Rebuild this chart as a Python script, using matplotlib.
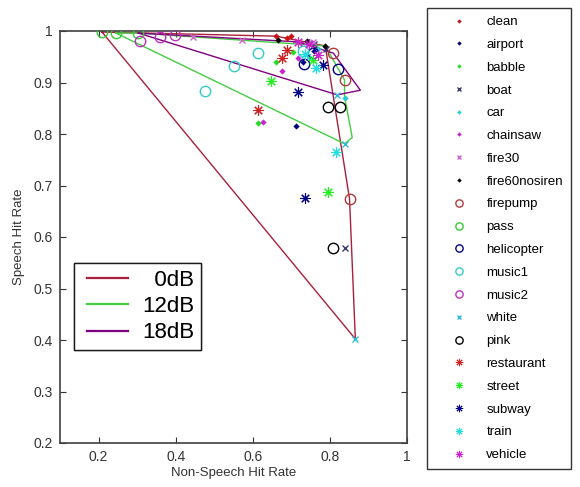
import matplotlib
matplotlib.use("Agg")
import matplotlib.pyplot as plt
from matplotlib.lines import Line2D
from matplotlib.legend_handler import HandlerLine2D

plt.rcParams["font.family"] = ["Liberation Sans", "DejaVu Sans"]

# noise types, in legend order
noise_types = ["clean", "airport", "babble", "boat", "car", "chainsaw", "fire30",
               "fire60nosiren", "firepump", "pass", "helicopter", "music1", "music2",
               "white", "pink", "restaurant", "street", "subway", "train", "vehicle"]
markers = [".", ".", ".", "x", ".", ".", "x", ".", "o", "o", "o", "o", "o",
           "x", "o", "*", "*", "*", "*", "*"]
colors = ["#cc1111", "#000080", "#22dd22", "#3a3a70", "#22cccc", "#cc22cc", "#cc66cc",
          "#000000", "#b03a3a", "#33cc33", "#000080", "#33cccc", "#bb33bb",
          "#33bbdd", "#000000", "#cc2222", "#22ee22", "#000088", "#22dddd", "#cc22cc"]

# operating points per noise type (0dB, 12dB, 18dB)
x_0db = [0.661, 0.713, 0.614, 0.838, 0.838, 0.627, 0.445, 0.666, 0.851, 0.209,
         0.734, 0.477, 0.308, 0.866, 0.809, 0.614, 0.794, 0.736, 0.817, 0.716]
y_0db = [0.990, 0.816, 0.821, 0.579, 0.870, 0.823, 0.988, 0.983, 0.674, 0.998,
         0.936, 0.883, 0.981, 0.402, 0.579, 0.847, 0.687, 0.676, 0.765, 0.979]
x_12db = [0.690, 0.731, 0.661, 0.760, 0.745, 0.677, 0.573, 0.740, 0.838, 0.245,
          0.822, 0.552, 0.360, 0.838, 0.794, 0.677, 0.648, 0.716, 0.765, 0.770]
y_12db = [0.987, 0.940, 0.940, 0.975, 0.950, 0.922, 0.983, 0.981, 0.905, 0.996,
          0.926, 0.932, 0.988, 0.781, 0.852, 0.948, 0.903, 0.882, 0.928, 0.953]
x_18db = [0.700, 0.760, 0.705, 0.790, 0.770, 0.716, 0.757, 0.788, 0.809, 0.303,
          0.755, 0.614, 0.399, 0.819, 0.827, 0.690, 0.755, 0.783, 0.735, 0.745]
y_18db = [0.990, 0.962, 0.960, 0.965, 0.965, 0.948, 0.979, 0.971, 0.957, 0.996,
          0.958, 0.957, 0.992, 0.876, 0.852, 0.963, 0.944, 0.934, 0.955, 0.975]

# one more music1 point seen in the cluster
extra_type = "music1"
extra_x = [0.729]
extra_y = [0.961]

# hull outlines per SNR
hull_0db_x = [0.209, 0.866, 0.851, 0.788, 0.661, 0.209]
hull_0db_y = [0.998, 0.402, 0.674, 0.971, 0.990, 0.998]
hull_12db_x = [0.245, 0.838, 0.858, 0.838, 0.838, 0.788, 0.303, 0.245]
hull_12db_y = [0.996, 0.781, 0.793, 0.873, 0.905, 0.971, 0.996, 0.996]
hull_18db_x = [0.303, 0.819, 0.879, 0.809, 0.716, 0.399, 0.303]
hull_18db_y = [0.996, 0.876, 0.885, 0.957, 0.979, 0.992, 0.996]

snr_labels = ["0dB", "12dB", "18dB"]
snr_colors = ["#a8203c", "#44cc44", "#800080"]

x_ticks = [0.2, 0.4, 0.6, 0.8, 1.0]
x_ticklabels = ["0.2", "0.4", "0.6", "0.8", "1"]
y_ticks = [0.2, 0.3, 0.4, 0.5, 0.6, 0.7, 0.8, 0.9, 1.0]
y_ticklabels = ["0.2", "0.3", "0.4", "0.5", "0.6", "0.7", "0.8", "0.9", "1"]


def marker_style(marker, color, small=False):
    k = 0.7 if small else 1.0
    if marker == ".":
        return dict(marker="D", markersize=3.2 * k, color=color, markeredgewidth=0)
    if marker == "x":
        return dict(marker="x", markersize=5 * k, color=color, markeredgewidth=1.0)
    if marker == "o":
        return dict(marker="o", markersize=7.5 * k, markerfacecolor="none",
                    markeredgecolor=color, markeredgewidth=1.0)
    return dict(marker=(8, 2, 0), markersize=7.5 * k, color=color,
                markeredgewidth=0.8 if not small else 0.7)


fig = plt.figure(figsize=(5.8, 4.87), dpi=100)
ax = fig.add_axes([60 / 580, 1 - 443 / 487, 347 / 580, 412 / 487])

hx = [hull_0db_x, hull_12db_x, hull_18db_x]
hy = [hull_0db_y, hull_12db_y, hull_18db_y]
for xs, ys, c in zip(hx, hy, snr_colors):
    ax.plot(xs, ys, color=c, linewidth=1.0, zorder=2)

handles = []
for i, name in enumerate(noise_types):
    xs = [x_0db[i], x_12db[i], x_18db[i]]
    ys = [y_0db[i], y_12db[i], y_18db[i]]
    if name == extra_type:
        xs += extra_x
        ys += extra_y
    ax.plot(xs, ys, linestyle="none", zorder=3, **marker_style(markers[i], colors[i]))
    handles.append(Line2D([], [], linestyle="none",
                          **marker_style(markers[i], colors[i], small=True)))

ax.set_xlim(0.1, 1.0)
ax.set_ylim(0.2, 1.0)
ax.set_xticks(x_ticks)
ax.set_xticklabels(x_ticklabels)
ax.set_yticks(y_ticks)
ax.set_yticklabels(y_ticklabels)
ax.tick_params(direction="in", top=True, right=True, length=4, width=0.8,
               labelsize=10, colors="#333333", pad=5)
for s in ax.spines.values():
    s.set_color("#404040")
    s.set_linewidth(1.2)
ax.set_xlabel("Non-Speech Hit Rate", fontsize=9.5, color="#333333", labelpad=2)
ax.set_ylabel("Speech Hit Rate", fontsize=9.5, color="#333333", labelpad=6)

snr_handles = [Line2D([], [], color=c, linewidth=1.6) for c in snr_colors]
# figure space keeps the labels right-aligned like the original
snr_text = ["\u2007" + snr_labels[0], snr_labels[1], snr_labels[2]]
leg1 = ax.legend(snr_handles, snr_text, loc="upper left",
                 bbox_to_anchor=(74 / 580, 1 - 263 / 487), bbox_transform=fig.transFigure,
                 fontsize=16, frameon=True, fancybox=False, edgecolor="black",
                 handlelength=2.15, handletextpad=0.63, labelspacing=0.24,
                 borderpad=0.3, borderaxespad=0,
                 handler_map={Line2D: HandlerLine2D(xpad=0.3)})
leg1.get_frame().set_linewidth(1.0)
ax.add_artist(leg1)

leg2 = fig.legend(handles, noise_types, loc="upper left",
                  bbox_to_anchor=(427 / 580, 1 - 8 / 487), fontsize=9.5,
                  frameon=True, fancybox=False, edgecolor="black",
                  handlelength=3.7, handletextpad=0.2, labelspacing=0.8,
                  borderpad=0.6, borderaxespad=0)
leg2.get_frame().set_linewidth(1.0)

fig.savefig("out.png", dpi=100)
